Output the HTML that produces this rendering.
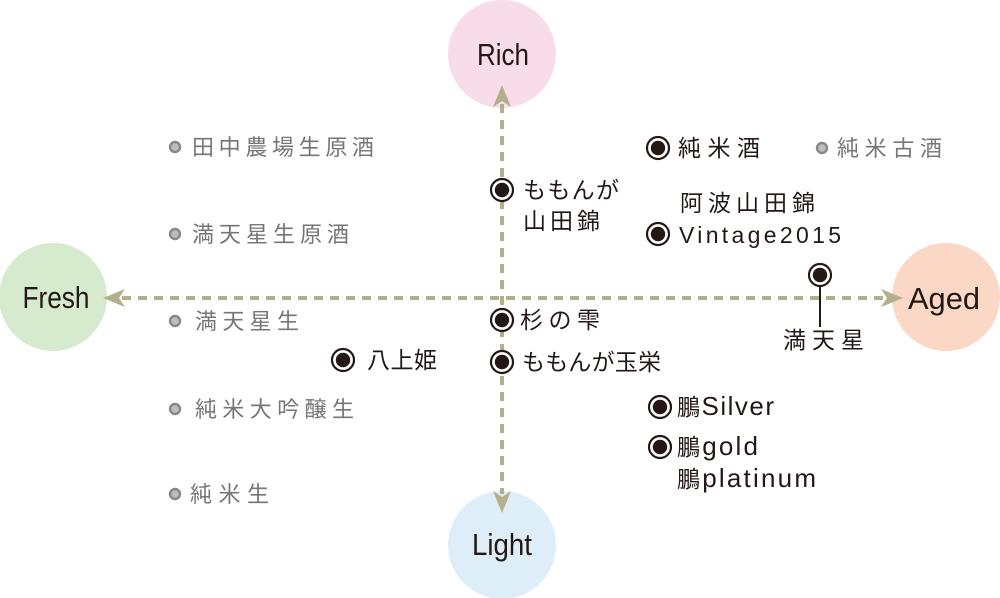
<!DOCTYPE html>
<html>
<head>
<meta charset="utf-8">
<style>
  html, body { margin: 0; padding: 0; background: #ffffff; }
  body { width: 1000px; height: 598px; overflow: hidden; }
  svg { display: block; }
  .lab { font-family: "Liberation Sans", sans-serif; fill: #231815; }
  .g { font-family: "Liberation Sans", "Noto Sans CJK JP", sans-serif; fill: #767676; font-size: 22px; }
  .b { font-family: "Liberation Sans", "Noto Sans CJK JP", sans-serif; fill: #231815; font-size: 23px; }
  .lt { font-size: 26px; }
</style>
</head>
<body>
<svg width="1000" height="598" viewBox="0 0 1000 598" xmlns="http://www.w3.org/2000/svg">
  <!-- axis circles -->
  <circle cx="502" cy="54" r="54" fill="#f9dce9"/>
  <circle cx="53" cy="297" r="54" fill="#d6ebcd"/>
  <circle cx="946" cy="297" r="54" fill="#fbd7c5"/>
  <circle cx="502" cy="545" r="54" fill="#ddeef9"/>

  <text class="lab" x="503" y="65" font-size="31" text-anchor="middle" textLength="52" lengthAdjust="spacingAndGlyphs">Rich</text>
  <text class="lab" x="56" y="308" font-size="31" text-anchor="middle" textLength="67" lengthAdjust="spacingAndGlyphs">Fresh</text>
  <text class="lab" x="944" y="309" font-size="31" text-anchor="middle" textLength="72" lengthAdjust="spacingAndGlyphs">Aged</text>
  <text class="lab" x="502" y="555" font-size="31" text-anchor="middle" textLength="60" lengthAdjust="spacingAndGlyphs">Light</text>

  <!-- dashed axes -->
  <line x1="122" y1="298" x2="884" y2="298" stroke="#b3af8b" stroke-width="4" stroke-dasharray="9 7"/>
  <line x1="502" y1="104" x2="502" y2="494" stroke="#b3af8b" stroke-width="4" stroke-dasharray="9 7"/>

  <!-- arrowheads -->
  <polygon points="502,85 511,107 502,101 493,107" fill="#b3af8b"/>
  <polygon points="502,513 493,491 502,497 511,491" fill="#b3af8b"/>
  <polygon points="103,298 125,289 119,298 125,307" fill="#b3af8b"/>
  <polygon points="903,298 881,289 887,298 881,307" fill="#b3af8b"/>

  <!-- grey dots -->
  <g fill="#bdbdbd" stroke="#888888" stroke-width="2.4">
    <circle cx="175" cy="147" r="5"/>
    <circle cx="175" cy="234" r="5"/>
    <circle cx="175" cy="321" r="5"/>
    <circle cx="175" cy="409" r="5"/>
    <circle cx="175" cy="494" r="5"/>
    <circle cx="822" cy="148" r="5"/>
  </g>

  <!-- grey labels -->
  <text class="g" x="192" y="155" textLength="182" lengthAdjust="spacing">田中農場生原酒</text>
  <text class="g" x="192" y="242" textLength="157" lengthAdjust="spacing">満天星生原酒</text>
  <text class="g" x="195" y="329" textLength="104" lengthAdjust="spacing">満天星生</text>
  <text class="g" x="195" y="417" textLength="159" lengthAdjust="spacing">純米大吟醸生</text>
  <text class="g" x="190" y="502" textLength="79" lengthAdjust="spacing">純米生</text>
  <text class="g" x="837" y="156" textLength="105" lengthAdjust="spacing">純米古酒</text>

  <!-- 満天星 leader line -->
  <line x1="820" y1="284" x2="820" y2="327" stroke="#231815" stroke-width="2"/>

  <!-- black markers -->
  <g>
    <g transform="translate(502,190)"><circle r="11" fill="#fff" stroke="#231815" stroke-width="2.2"/><circle r="7.2" fill="#231815"/></g>
    <g transform="translate(502,320)"><circle r="11" fill="#fff" stroke="#231815" stroke-width="2.2"/><circle r="7.2" fill="#231815"/></g>
    <g transform="translate(502,362)"><circle r="11" fill="#fff" stroke="#231815" stroke-width="2.2"/><circle r="7.2" fill="#231815"/></g>
    <g transform="translate(343,360)"><circle r="11" fill="#fff" stroke="#231815" stroke-width="2.2"/><circle r="7.2" fill="#231815"/></g>
    <g transform="translate(658,148)"><circle r="11" fill="#fff" stroke="#231815" stroke-width="2.2"/><circle r="7.2" fill="#231815"/></g>
    <g transform="translate(658,234)"><circle r="11" fill="#fff" stroke="#231815" stroke-width="2.2"/><circle r="7.2" fill="#231815"/></g>
    <g transform="translate(820,275)"><circle r="11" fill="#fff" stroke="#231815" stroke-width="2.2"/><circle r="7.2" fill="#231815"/></g>
    <g transform="translate(660,407)"><circle r="11" fill="#fff" stroke="#231815" stroke-width="2.2"/><circle r="7.2" fill="#231815"/></g>
    <g transform="translate(660,447)"><circle r="11" fill="#fff" stroke="#231815" stroke-width="2.2"/><circle r="7.2" fill="#231815"/></g>
  </g>

  <!-- black labels -->
  <text class="b" x="523" y="198" textLength="96" lengthAdjust="spacing">ももんが</text>
  <text class="b" x="523" y="229" textLength="77" lengthAdjust="spacing">山田錦</text>
  <text class="b" x="520" y="328" textLength="80" lengthAdjust="spacing">杉の雫</text>
  <text class="b" x="522" y="370" textLength="139" lengthAdjust="spacing">ももんが玉栄</text>
  <text class="b" x="367" y="368" textLength="70" lengthAdjust="spacing">八上姫</text>
  <text class="b" x="678" y="156" textLength="82" lengthAdjust="spacing">純米酒</text>
  <text class="b" x="680" y="211" textLength="135" lengthAdjust="spacing">阿波山田錦</text>
  <text class="b" x="679" y="243" font-size="27" textLength="162" lengthAdjust="spacing">Vintage2015</text>
  <text class="b" x="783" y="348" textLength="81" lengthAdjust="spacing">満天星</text>
  <text class="b" x="677" y="415" textLength="97" lengthAdjust="spacing">鵬<tspan class="lt">Silver</tspan></text>
  <text class="b" x="677" y="455" textLength="81" lengthAdjust="spacing">鵬<tspan class="lt">gold</tspan></text>
  <text class="b" x="677" y="487" textLength="139" lengthAdjust="spacing">鵬<tspan class="lt">platinum</tspan></text>
</svg>
</body>
</html>
